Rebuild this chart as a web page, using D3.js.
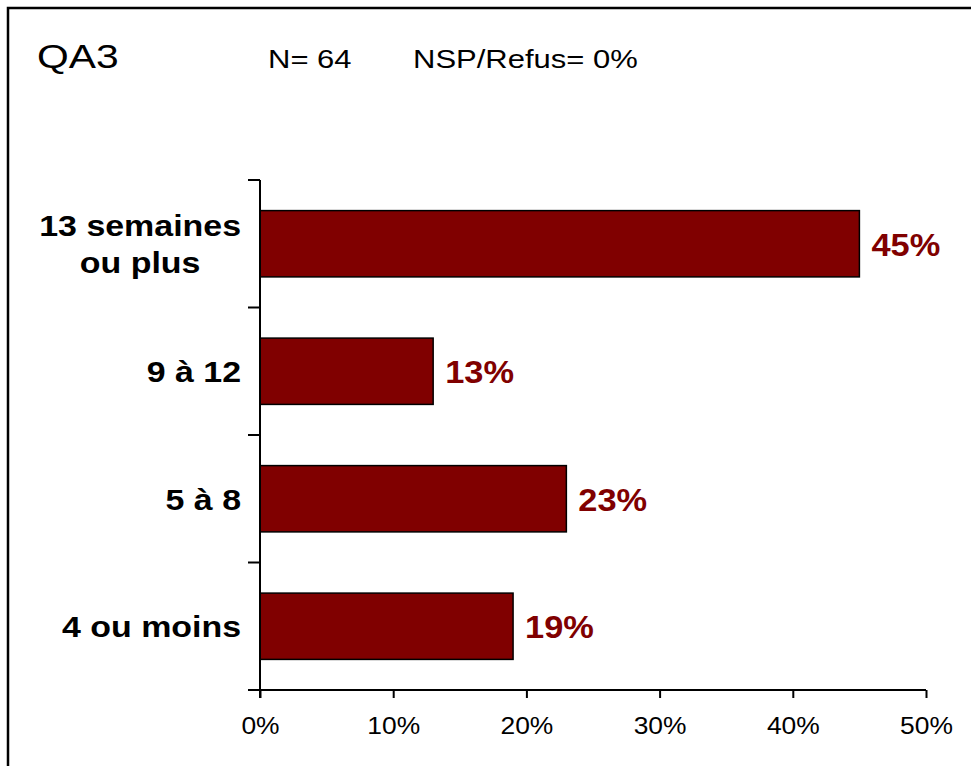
<!DOCTYPE html>
<html>
<head>
<meta charset="utf-8">
<script src="https://cdn.jsdelivr.net/npm/d3@7"></script>
<style>
  html, body { margin: 0; padding: 0; background: #fff; }
  svg { display: block; font-family: "Liberation Sans", Arial, sans-serif; }
</style>
</head>
<body>
<svg id="chart" width="971" height="766"></svg>
<script>
// ---- data ----
const categories = [["13 semaines", "ou plus"], ["9 à 12"], ["5 à 8"], ["4 ou moins"]];
const values = [45, 13, 23, 19];
const tickValues = [0, 10, 20, 30, 40, 50];
const titleText = "QA3";
const nText = "N= 64";
const nspText = "NSP/Refus= 0%";

const svg = d3.select("#chart");
const keys = categories.map(c => c.join(" "));

// frame
svg.append("rect")
  .attr("x", 8).attr("y", 8).attr("width", 1000).attr("height", 800)
  .attr("fill", "none").attr("stroke", "#000").attr("stroke-width", 2.5);

// header
function stretchedText(sel, x, y, txt, size, sx, weight, fill, anchor) {
  return sel.append("text")
    .attr("transform", `translate(${x},${y}) scale(${sx},1)`)
    .attr("font-size", size)
    .attr("font-weight", weight || "normal")
    .attr("fill", fill || "#000")
    .attr("text-anchor", anchor || "start")
    .text(txt);
}
stretchedText(svg, 37, 68, titleText, 34, 1.2);
stretchedText(svg, 268, 68, nText, 25, 1.24);
stretchedText(svg, 413, 68, nspText, 25, 1.24);

// scales
const x = d3.scaleLinear().domain([0, 50]).range([260, 926]);
const y = d3.scaleBand().domain(keys).range([180, 690]).paddingInner(0.48).paddingOuter(0.24);

// bars
svg.append("g").selectAll("rect")
  .data(values)
  .join("rect")
  .attr("x", x(0))
  .attr("y", (d, i) => y(keys[i]))
  .attr("width", d => x(d) - x(0))
  .attr("height", y.bandwidth())
  .attr("fill", "#800000")
  .attr("stroke", "#000")
  .attr("stroke-width", 1.5);

// value labels
values.forEach((v, i) => {
  const cy = y(keys[i]) + y.bandwidth() / 2;
  stretchedText(svg, x(v) + 12, cy + 12, v + "%", 31, 1.11, "bold", "#800000");
});

// y axis (band boundaries)
const step = y.step();
const half = step * y.paddingInner() / 2;
const bounds = keys.map(k => y(k) - half).concat([y(keys[keys.length - 1]) + y.bandwidth() + half]);
const yAxis = svg.append("g");
yAxis.append("line")
  .attr("x1", x(0)).attr("x2", x(0))
  .attr("y1", bounds[0]).attr("y2", bounds[bounds.length - 1] + 8)
  .attr("stroke", "#000").attr("stroke-width", 2);
yAxis.selectAll("line.tk").data(bounds).join("line").attr("class", "tk")
  .attr("x1", x(0) - 12).attr("x2", x(0))
  .attr("y1", d => d).attr("y2", d => d)
  .attr("stroke", "#000").attr("stroke-width", 2);

// category labels
categories.forEach((lines, i) => {
  const cy = y(keys[i]) + y.bandwidth() / 2;
  const g = svg.append("g").attr("transform", `translate(241,${cy}) scale(1.17,1)`);
  if (lines.length === 1) {
    g.append("text").attr("y", 11).attr("text-anchor", "end")
      .attr("font-size", 29).attr("font-weight", "bold").text(lines[0]);
  } else {
    const ts = lines.map((l, j) => g.append("text")
      .attr("y", j === 0 ? -8 : 29)
      .attr("font-size", 29).attr("font-weight", "bold").text(l));
    const widths = ts.map(t => t.node().getComputedTextLength());
    const maxW = d3.max(widths);
    ts.forEach(t => t.attr("x", -maxW / 2).attr("text-anchor", "middle"));
  }
});

// x axis
const axisY = bounds[bounds.length - 1];
const xAxisG = svg.append("g").attr("transform", `translate(0,${axisY})`)
  .call(d3.axisBottom(x).tickValues(tickValues).tickSize(8).tickSizeOuter(0).tickFormat(d => d + "%"));
xAxisG.select(".domain").remove();
xAxisG.append("line")
  .attr("x1", x(0) - 12).attr("x2", x(50)).attr("y1", 0).attr("y2", 0)
  .attr("stroke", "#000").attr("stroke-width", 2);
xAxisG.selectAll(".tick line").attr("stroke", "#000").attr("stroke-width", 2);
xAxisG.selectAll(".tick text")
  .attr("y", 0).attr("dy", null)
  .attr("transform", "translate(0,44) scale(1.1,1)")
  .attr("font-size", 24)
  .attr("font-family", "'Liberation Sans', Arial, sans-serif")
  .attr("fill", "#000");
</script>
</body>
</html>
